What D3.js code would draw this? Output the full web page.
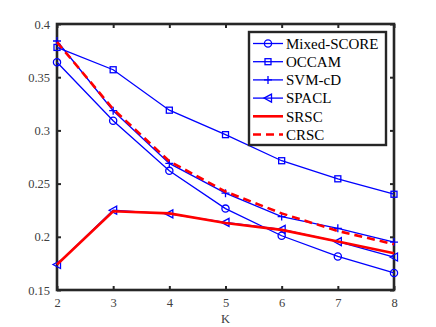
<!DOCTYPE html>
<html>
<head>
<meta charset="utf-8">
<script src="https://cdn.jsdelivr.net/npm/d3@7"></script>
<style>
  body { margin: 0; background: #fff; }
  text { font-family: 'Liberation Serif', 'DejaVu Serif', serif; }
</style>
</head>
<body>
<svg id="chart" width="436" height="327"></svg>
<script>
var kValues = [2, 3, 4, 5, 6, 7, 8];
var mixedScore = [0.364, 0.309, 0.262, 0.2265, 0.201, 0.1815, 0.166];
var occam = [0.378, 0.357, 0.319, 0.296, 0.2715, 0.2545, 0.240];
var svmCD = [0.384, 0.3185, 0.269, 0.241, 0.219, 0.208, 0.195];
var spacl = [0.174, 0.225, 0.2215, 0.2135, 0.207, 0.1955, 0.181];
var srsc = [0.174, 0.224, 0.222, 0.213, 0.2065, 0.1955, 0.1845];
var crsc = [0.383, 0.320, 0.271, 0.2425, 0.222, 0.2055, 0.193];
var yTicks = [0.15, 0.2, 0.25, 0.3, 0.35, 0.4];

var series = [
    {name: 'Mixed-SCORE', values: mixedScore, color: '#0000ff', width: 1.3, marker: 'circle'},
    {name: 'OCCAM', values: occam, color: '#0000ff', width: 1.3, marker: 'square'},
    {name: 'SVM-cD', values: svmCD, color: '#0000ff', width: 1.3, marker: 'plus'},
    {name: 'SPACL', values: spacl, color: '#0000ff', width: 1.3, marker: 'triangle'},
    {name: 'SRSC', values: srsc, color: '#ff0000', width: 2.6, marker: null},
    {name: 'CRSC', values: crsc, color: '#ff0000', width: 2.6, marker: null, dash: '8,5'}
];

var serif = "'Liberation Serif', 'DejaVu Serif', serif";

var margin = {top: 24, right: 42, bottom: 37, left: 57},
    width = 394 - margin.left,
    height = 290 - margin.top;

var svg = d3.select('#chart').append('g')
    .attr('transform', 'translate(' + margin.left + ',' + margin.top + ')');

var x = d3.scaleLinear().domain([2, 8]).range([0, width]);
var y = d3.scaleLinear().domain([0.15, 0.4]).range([height, 0]);

var axisColor = '#262626';

// axes with inward ticks, box on
var xAxis = d3.axisBottom(x).tickValues(kValues).tickSizeInner(-4).tickSizeOuter(0).tickPadding(8)
    .tickFormat(d3.format('d'));
var yAxis = d3.axisLeft(y).tickValues(yTicks).tickSizeInner(-4).tickSizeOuter(0).tickPadding(7)
    .tickFormat(function(d) { return String(+d.toFixed(2)); });

svg.append('g').attr('transform', 'translate(0,' + height + ')').call(xAxis);
svg.append('g').call(yAxis);
svg.append('g').call(d3.axisTop(x).tickValues(kValues).tickSizeInner(-4).tickSizeOuter(0).tickFormat(''));
svg.append('g').attr('transform', 'translate(' + width + ',0)')
    .call(d3.axisRight(y).tickValues(yTicks).tickSizeInner(-4).tickSizeOuter(0).tickFormat(''));

svg.selectAll('.domain').remove();
svg.selectAll('g').attr('font-family', serif);
svg.selectAll('.tick line').attr('stroke', axisColor).attr('stroke-width', 2);
svg.selectAll('.tick text').attr('fill', '#404040').attr('font-size', 12.5)
    .attr('font-family', serif);

svg.append('rect')
    .attr('x', 0).attr('y', 0).attr('width', width).attr('height', height)
    .attr('fill', 'none').attr('stroke', axisColor).attr('stroke-width', 2.6);

svg.append('text')
    .attr('x', width / 2).attr('y', height + 33)
    .attr('text-anchor', 'middle').attr('fill', '#404040')
    .attr('font-family', serif).attr('font-size', 12.5).text('K');

var line = d3.line()
    .x(function(d, i) { return x(kValues[i]); })
    .y(function(d) { return y(d); });

function drawMarker(g, type, cx, cy, color) {
    if (type === 'circle') {
        g.append('circle').attr('cx', cx).attr('cy', cy).attr('r', 3.6)
            .attr('fill', 'none').attr('stroke', color).attr('stroke-width', 1.3);
    } else if (type === 'square') {
        g.append('rect').attr('x', cx - 3).attr('y', cy - 3).attr('width', 6).attr('height', 6)
            .attr('fill', 'none').attr('stroke', color).attr('stroke-width', 1.3);
    } else if (type === 'plus') {
        g.append('path').attr('d', 'M' + (cx - 4) + ',' + cy + 'H' + (cx + 4) + 'M' + cx + ',' + (cy - 4) + 'V' + (cy + 4))
            .attr('stroke', color).attr('stroke-width', 1.3);
    } else if (type === 'triangle') {
        g.append('path').attr('d', 'M' + (cx - 4) + ',' + cy + 'L' + (cx + 3.5) + ',' + (cy - 4) + 'L' + (cx + 3.5) + ',' + (cy + 4) + 'Z')
            .attr('fill', 'none').attr('stroke', color).attr('stroke-width', 1.3);
    }
}

series.forEach(function(s) {
    var g = svg.append('g');
    g.append('path')
        .attr('d', line(s.values))
        .attr('fill', 'none')
        .attr('stroke', s.color)
        .attr('stroke-width', s.width)
        .attr('stroke-dasharray', s.dash || null);
    if (s.marker) {
        s.values.forEach(function(v, i) {
            drawMarker(g, s.marker, x(kValues[i]), y(v), s.color);
        });
    }
});

// legend
var legend = d3.select('#chart').append('g').attr('transform', 'translate(249,32)');
legend.append('rect')
    .attr('x', 0).attr('y', 0).attr('width', 137).attr('height', 113)
    .attr('fill', '#fff').attr('stroke', axisColor).attr('stroke-width', 2.4);

series.forEach(function(s, i) {
    var cy = 11.5 + i * 18.2;
    legend.append('line')
        .attr('x1', 4).attr('x2', 34).attr('y1', cy).attr('y2', cy)
        .attr('stroke', s.color).attr('stroke-width', s.width)
        .attr('stroke-dasharray', s.dash || null);
    if (s.marker) drawMarker(legend, s.marker, 19, cy, s.color);
    legend.append('text')
        .attr('x', 37).attr('y', cy).attr('dy', '0.35em')
        .attr('fill', '#000').attr('font-family', serif).attr('font-size', 15)
        .text(s.name);
});
</script>
</body>
</html>
